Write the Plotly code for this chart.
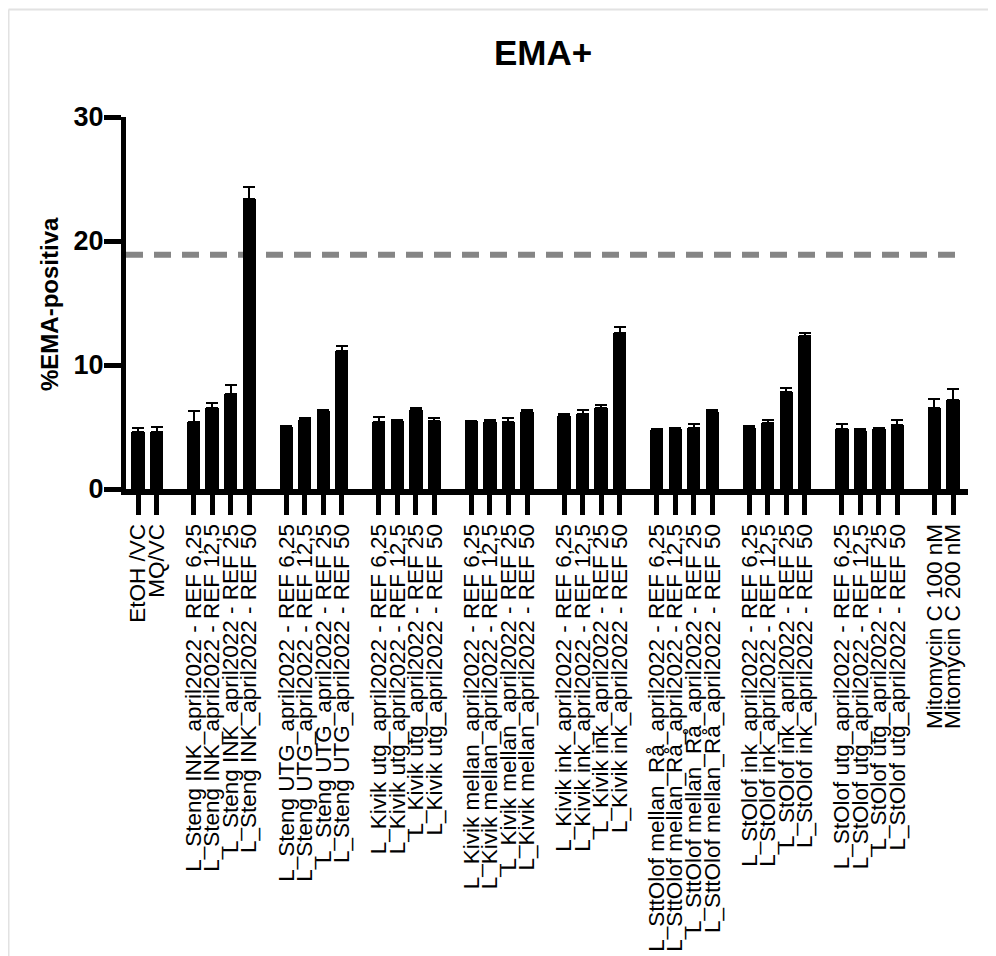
import plotly.graph_objects as go

# ---------------- data ----------------
vc_labels = ["EtOH /VC", "MQ/VC"]
vc_values = [4.6, 4.6]
vc_errors = [0.3, 0.4]

conc_labels = ["REF 6,25", "REF 12,5", "REF 25", "REF 50"]
sample_names = [
    "L_Steng INK_april2022",
    "L_Steng UTG_april2022",
    "L_Kivik utg_april2022",
    "L_Kivik mellan_april2022",
    "L_Kivik ink_april2022",
    "L_SttOlof mellan_Rå_april2022",
    "L_StOlof ink_april2022",
    "L_StOlof utg_april2022",
]
sample_values = [
    [5.4, 6.5, 7.7, 23.4],
    [5.0, 5.6, 6.3, 11.1],
    [5.4, 5.5, 6.4, 5.5],
    [5.45, 5.4, 5.4, 6.2],
    [5.85, 6.05, 6.55, 12.6],
    [4.75, 4.85, 4.95, 6.2],
    [4.95, 5.3, 7.85, 12.3],
    [4.85, 4.65, 4.85, 5.15],
]
sample_errors = [
    [0.9, 0.45, 0.65, 0.95],
    [0.1, 0.1, 0.1, 0.45],
    [0.4, 0.1, 0.1, 0.2],
    [0.05, 0.2, 0.3, 0.2],
    [0.2, 0.3, 0.2, 0.45],
    [0.05, 0.05, 0.3, 0.2],
    [0.15, 0.3, 0.3, 0.3],
    [0.4, 0.15, 0.1, 0.45],
]

mito_labels = ["Mitomycin C 100 nM", "Mitomycin C 200 nM"]
mito_values = [6.55, 7.2]
mito_errors = [0.7, 0.85]

threshold = 18.9
y_ticks = [0, 10, 20, 30]

# ------------- assemble groups (one empty slot between groups) -------------
groups = [(vc_labels, vc_values, vc_errors)]
for name, vals, errs in zip(sample_names, sample_values, sample_errors):
    groups.append(([f"{name} - {c}" for c in conc_labels], vals, errs))
groups.append((mito_labels, mito_values, mito_errors))

xpos, labels, values, errors = [], [], [], []
slot = 0
for labs, vals, errs in groups:
    for lab, v, e in zip(labs, vals, errs):
        xpos.append(slot)
        labels.append(lab)
        values.append(v)
        errors.append(e)
        slot += 1
    slot += 1
last = xpos[-1]

# ------------- layout geometry (figure sits 8px inside the page) -------------
W, H = 988, 948
ML, MR, MT, MB = 118, 28, 109, 467
pw = W - ML - MR
ph = H - MT - MB


def px_x(p):
    return (p - ML) / pw


def px_y(p):
    return (H - MB - p) / ph


fig = go.Figure()
fig.add_trace(go.Bar(
    x=xpos, y=values, width=0.72,
    marker=dict(color="black", line=dict(width=0)),
    error_y=dict(type="data", symmetric=False, array=errors,
                 arrayminus=[0] * len(errors), color="black",
                 thickness=2, width=6),
    showlegend=False,
))

font_family = "Liberation Sans, Arial, sans-serif"

fig.update_layout(
    width=W, height=H,
    margin=dict(l=ML, r=MR, t=MT, b=MB, autoexpand=False),
    paper_bgcolor="white", plot_bgcolor="white",
    font=dict(family=font_family, color="black"),
    title=dict(text="<b>EMA+</b>", font=dict(size=35, family=font_family, color="black"),
               x=px_x(535), xref="paper", xanchor="center",
               y=1 - 45 / H, yref="container", yanchor="middle"),
    xaxis=dict(
        range=[-0.65, last + 0.81],
        showline=True, linewidth=6, linecolor="black",
        ticks="outside", ticklen=20, tickwidth=5, tickcolor="black",
        tickmode="array", tickvals=xpos, ticktext=labels, tickangle=-90,
        tickfont=dict(size=22.5, family=font_family, color="black"),
        showgrid=False, zeroline=False, automargin=False,
    ),
    yaxis=dict(
        range=[0, 30],
        showline=True, linewidth=5, linecolor="black",
        ticks="outside", ticklen=17, tickwidth=5, tickcolor="black",
        tickmode="array", tickvals=y_ticks, ticktext=[str(t) for t in y_ticks],
        tickfont=dict(size=27, family=font_family, color="black", weight="bold"),
        ticklabelstandoff=-5,
        showgrid=False, zeroline=False, automargin=False,
    ),
    bargap=0,
)

# threshold dashed line
fig.add_shape(type="line", xref="x", yref="y",
              x0=-0.65, x1=last + 0.2, y0=threshold, y1=threshold,
              line=dict(color="#858585", width=6, dash="17px,11px"),
              layer="below")

# light frame on top and left of the image
fig.add_shape(type="line", xref="paper", yref="paper",
              x0=px_x(0.5), x1=px_x(988), y0=px_y(1.5), y1=px_y(1.5),
              line=dict(color="#e2e2e2", width=2))
fig.add_shape(type="line", xref="paper", yref="paper",
              x0=px_x(0.5), x1=px_x(0.5), y0=px_y(1.5), y1=px_y(948),
              line=dict(color="#e2e2e2", width=2))

# y axis title
fig.add_annotation(text="<b>%EMA-positiva</b>", textangle=-90,
                   xref="paper", yref="paper", x=px_x(41), y=px_y(296),
                   xanchor="center", yanchor="middle", showarrow=False,
                   font=dict(size=24, family=font_family, color="black"))

fig.write_html("out.html")
